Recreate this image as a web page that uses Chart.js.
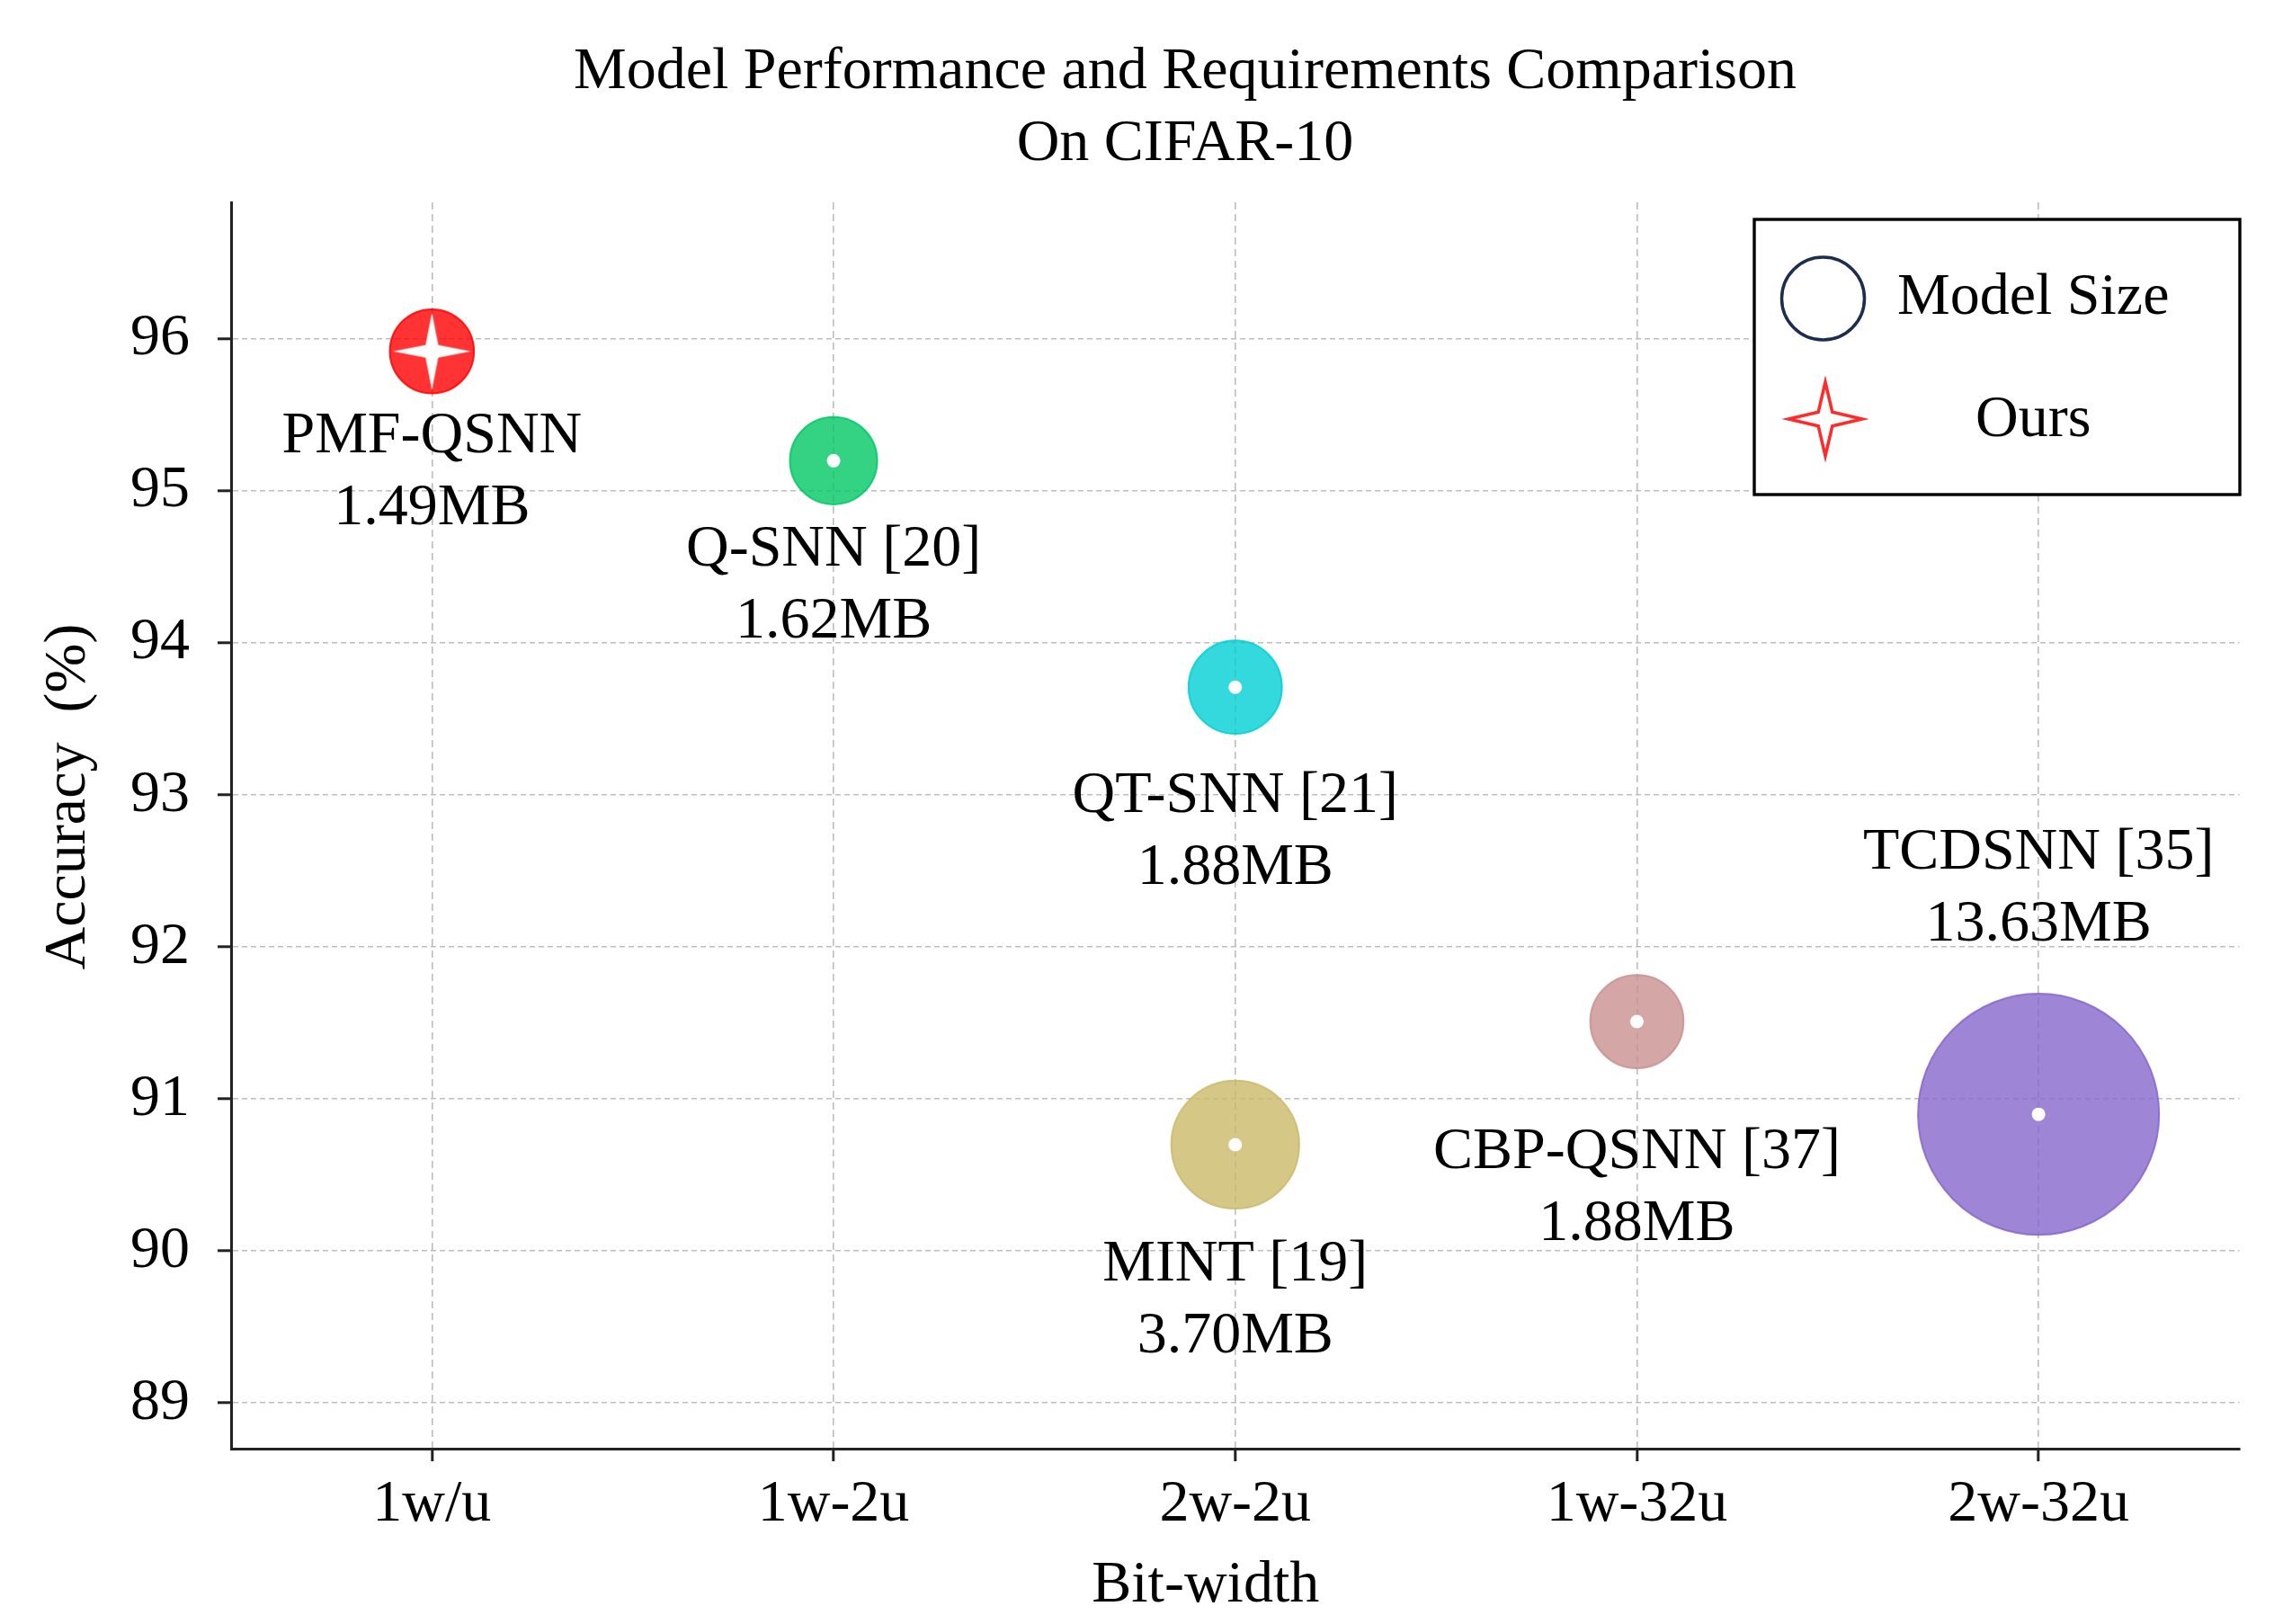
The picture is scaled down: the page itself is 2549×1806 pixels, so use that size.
<!DOCTYPE html>
<html>
<head>
<meta charset="utf-8">
<script src="https://cdn.jsdelivr.net/npm/chart.js@4.4.1/dist/chart.umd.min.js"></script>
<style>
  html, body { margin: 0; padding: 0; background: #fff; }
  #wrap { width: 2549px; height: 1806px; position: relative; }
</style>
</head>
<body>
<div id="wrap"><canvas id="bubbleChart"></canvas></div>
<script>
// data
const bitWidths = ["1w/u", "1w-2u", "2w-2u", "1w-32u", "2w-32u"];
const models = ["PMF-QSNN", "Q-SNN [20]", "QT-SNN [21]", "MINT [19]", "CBP-QSNN [37]", "TCDSNN [35]"];
const modelBit = [0, 1, 2, 2, 3, 4];
const accuracy = [95.92, 95.2, 93.71, 90.7, 91.51, 90.9];
const modelSizeMB = [1.49, 1.62, 1.88, 3.70, 1.88, 13.63];
const labelAt = [95.36, 94.61, 92.99, 89.91, 90.65, 92.62]; // accuracy value where each label's first line sits
const yTicks = [89, 90, 91, 92, 93, 94, 95, 96];
const titleLines = ["Model Performance and Requirements Comparison", "On CIFAR-10"];

const baseColors = ["#ff0000", "#00c864", "#00cfd3", "#caba68", "#ca9090", "#8666cc"];
const serif = "'Liberation Serif', 'Times New Roman', serif";
const FS = 66;

function rgba(hex, a) {
  const n = parseInt(hex.slice(1), 16);
  return `rgba(${(n >> 16) & 255},${(n >> 8) & 255},${n & 255},${a})`;
}

// marker area grows with model size
function bubbleRadius(mb) {
  return Math.sqrt(1300 * mb + 250);
}

function starPath(g, outer, inner) {
  g.beginPath();
  for (let k = 0; k < 8; k++) {
    const a = -Math.PI / 2 + k * Math.PI / 4;
    const r = k % 2 === 0 ? outer : inner;
    g.lineTo(r * Math.cos(a), r * Math.sin(a));
  }
  g.closePath();
}

function starImage(outer, inner) {
  const c = document.createElement("canvas");
  const s = Math.ceil(2 * outer + 4);
  c.width = s; c.height = s;
  const g = c.getContext("2d");
  g.translate(s / 2, s / 2);
  starPath(g, outer, inner);
  g.fillStyle = "#ffffff";
  g.fill();
  return c;
}

const whiteStar = starImage(43, 10);

const points = models.map((m, i) => ({ x: modelBit[i], y: accuracy[i], r: bubbleRadius(modelSizeMB[i]) }));
const centers = models.map((m, i) => ({ x: modelBit[i], y: accuracy[i], r: 7.5 }));

const textPlugin = {
  id: "textPlugin",
  afterDatasetsDraw(chart) {
    const { ctx, chartArea, scales: { x, y } } = chart;
    ctx.save();
    ctx.font = `${FS}px ${serif}`;
    ctx.fillStyle = "#000";
    ctx.textAlign = "center";
    ctx.textBaseline = "middle";

    models.forEach((m, i) => {
      const px = x.getPixelForValue(modelBit[i]);
      const py = y.getPixelForValue(labelAt[i]);
      ctx.fillText(m, px, py);
      ctx.fillText(modelSizeMB[i].toFixed(2) + "MB", px, py + 80);
    });

    // title
    ctx.fillText(titleLines[0], 1318, 81);
    ctx.fillText(titleLines[1], 1318, 161);

    // axis titles
    const midX = (chartArea.left + chartArea.right) / 2;
    const midY = (chartArea.top + chartArea.bottom) / 2;
    ctx.fillText("Bit-width", midX - 33, 1764);
    ctx.save();
    ctx.translate(77, midY - 32);
    ctx.rotate(-Math.PI / 2);
    ctx.fillText("Accuracy  (%)", 0, 0);
    ctx.restore();
    ctx.restore();
  },
  afterDraw(chart) {
    const ctx = chart.ctx;
    ctx.save();
    // legend box
    ctx.lineWidth = 3.4;
    ctx.strokeStyle = "#000";
    ctx.fillStyle = "#fff";
    ctx.fillRect(1951, 244, 540, 306);
    ctx.strokeRect(1951, 244, 540, 306);

    ctx.beginPath();
    ctx.arc(2027.5, 332, 46, 0, Math.PI * 2);
    ctx.lineWidth = 3.5;
    ctx.strokeStyle = "#1c2e50";
    ctx.stroke();

    ctx.save();
    ctx.translate(2030, 466);
    starPath(ctx, 41, 11);
    ctx.fillStyle = "#fff";
    ctx.fill();
    ctx.lineWidth = 3.5;
    ctx.strokeStyle = "#ff2a2a";
    ctx.stroke();
    ctx.restore();

    ctx.font = `${FS}px ${serif}`;
    ctx.fillStyle = "#000";
    ctx.textAlign = "left";
    ctx.textBaseline = "middle";
    ctx.fillText("Model Size", 2110, 332);
    ctx.fillText("Ours", 2197, 468);
    ctx.restore();
  }
};

Chart.defaults.font.family = serif;
Chart.defaults.color = "#000";

new Chart(document.getElementById("bubbleChart"), {
  type: "bubble",
  data: {
    datasets: [
      {
        label: "centers",
        data: centers,
        order: 0,
        backgroundColor: "#ffffff",
        borderWidth: 0,
        pointStyle: models.map((m, i) => (i === 0 ? whiteStar : "circle"))
      },
      {
        label: "Model Size",
        data: points,
        order: 1,
        backgroundColor: baseColors.map(c => rgba(c, 0.8)),
        borderColor: baseColors.map(c => rgba(c, 0.85)),
        borderWidth: 2
      }
    ]
  },
  options: {
    responsive: true,
    maintainAspectRatio: false,
    animation: false,
    events: [],
    layout: { autoPadding: false, padding: { top: 225, right: 58.5, left: 0, bottom: 0 } },
    plugins: {
      legend: { display: false },
      title: { display: false },
      tooltip: { enabled: false }
    },
    scales: {
      x: {
        type: "linear",
        min: -0.5,
        max: 4.5,
        afterBuildTicks: scale => { scale.ticks = bitWidths.map((b, i) => ({ value: i })); },
        afterFit: scale => {
          scale.height = 195;
          scale.paddingLeft = 0;
          scale.paddingRight = 0;
        },
        ticks: {
          callback: v => bitWidths[v],
          font: { size: FS },
          padding: 9,
          maxRotation: 0
        },
        grid: { color: "#bdbdbd", lineWidth: 1.6, tickColor: "#222", tickWidth: 3, tickLength: 14 },
        border: { color: "#222", width: 3, dash: [8, 5] }
      },
      y: {
        min: 88.7,
        max: 96.9,
        afterBuildTicks: scale => { scale.ticks = yTicks.map(v => ({ value: v })); },
        afterFit: scale => {
          scale.width = 257;
          scale.paddingTop = 0;
          scale.paddingBottom = 0;
        },
        ticks: { font: { size: FS }, padding: 31 },
        grid: { color: "#bdbdbd", lineWidth: 1.6, tickColor: "#222", tickWidth: 3, tickLength: 15 },
        border: { color: "#222", width: 3, dash: [6, 4] }
      }
    }
  },
  plugins: [textPlugin]
});
</script>
</body>
</html>
